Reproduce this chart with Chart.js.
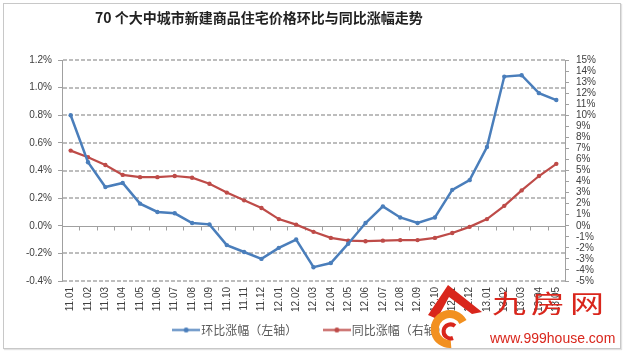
<!DOCTYPE html>
<html><head><meta charset="utf-8">
<script src="https://cdn.jsdelivr.net/npm/chart.js@4.4.0/dist/chart.umd.min.js"></script>
<style>
html,body{margin:0;padding:0;background:#fff;}
#wrap{position:relative;width:625px;height:357px;overflow:hidden;background:#fff;}
#frame{position:absolute;left:3px;top:3px;width:616px;height:344px;border:1px solid #c8c8c8;box-shadow:1px 1px 1px #e2e2e2;}
#title{position:absolute;left:95px;top:7px;line-height:16px;white-space:nowrap;font:bold 14px "Noto Sans CJK SC",sans-serif;color:#222;}
#c{position:absolute;left:0;top:0;}
#logo{position:absolute;left:425px;top:282px;}
#wm1{position:absolute;left:492px;top:287px;font:34px "Noto Sans CJK SC",sans-serif;color:#d9261c;letter-spacing:5px;line-height:40px;transform:scale(1,0.75);transform-origin:left top;white-space:nowrap;}
#wm2{position:absolute;left:490px;top:330px;font:14px "Liberation Sans",Arial,sans-serif;color:#d9261c;line-height:16px;white-space:nowrap;}
</style></head>
<body>
<div id="wrap">
<div id="frame"></div>
<canvas id="c" width="625" height="357"></canvas>
<div id="title">70 个大中城市新建商品住宅价格环比与同比涨幅走势</div>
<svg id="logo" width="70" height="75" viewBox="0 0 70 75">
  <path d="M23 3 L57 30 L47 32 L24 15 L12 37 L3 33 Z" fill="#d9261c"/>
  <path d="M38 40 A15 15 0 1 0 26 62" fill="none" stroke="#f29020" stroke-width="8"/>
  <path d="M30 44 A7 7 0 1 0 28 56" fill="none" stroke="#d9261c" stroke-width="4"/>
</svg>
<div id="wm1">九房网</div>
<div id="wm2">www.999house.com</div>
</div>
<script>
const categories = ['11.01','11.02','11.03','11.04','11.05','11.06','11.07','11.08','11.09','11.10','11.11','11.12',
  '12.01','12.02','12.03','12.04','12.05','12.06','12.07','12.08','12.09','12.10','12.11','12.12',
  '13.01','13.02','13.03','13.04','13.05'];
// 环比涨幅 (%), left axis
const momChange = [0.80,0.46,0.28,0.31,0.16,0.10,0.09,0.02,0.01,-0.14,-0.19,-0.24,
  -0.16,-0.10,-0.30,-0.27,-0.13,0.02,0.14,0.06,0.02,0.06,0.26,0.33,
  0.57,1.08,1.09,0.96,0.91];
// 同比涨幅 (%), right axis
const yoyChange = [6.8,6.2,5.5,4.6,4.4,4.4,4.5,4.35,3.8,3.0,2.3,1.6,
  0.6,0.1,-0.55,-1.1,-1.35,-1.4,-1.35,-1.3,-1.3,-1.1,-0.65,-0.1,
  0.6,1.8,3.2,4.5,5.6];
const seriesNames = ['环比涨幅（左轴）','同比涨幅（右轴）'];
const leftAxis = {min:-0.4, max:1.2, step:0.2};
const rightAxis = {min:-5, max:15, step:1};

const BLUE = '#4a7ebb', RED = '#be4b48', AXIS = '#a0a0a0', GRID = '#a8a8a8';

function legendMark(color){
  const cv = document.createElement('canvas');
  cv.width = 28; cv.height = 7;
  const g = cv.getContext('2d');
  g.strokeStyle = color; g.lineWidth = 2;
  g.beginPath(); g.moveTo(0,3.5); g.lineTo(28,3.5); g.stroke();
  g.fillStyle = color; g.beginPath(); g.arc(14,3.5,2.5,0,Math.PI*2); g.fill();
  return cv;
}
const marks = [legendMark(BLUE), legendMark(RED)];

// dashed horizontal grid lines at the left-axis ticks, solid zero line with category tick marks
const gridPlugin = {
  id:'gridPlugin',
  beforeDatasetsDraw(chart){
    const ctx = chart.ctx, area = chart.chartArea, yS = chart.scales.y, xS = chart.scales.x;
    ctx.save();
    ctx.strokeStyle = GRID; ctx.lineWidth = 1.5; ctx.setLineDash([4,2]);
    for (const t of yS.ticks) {
      if (Math.abs(t.value) < 1e-9) continue;
      const py = Math.round(yS.getPixelForValue(t.value));
      ctx.beginPath(); ctx.moveTo(area.left + 1, py); ctx.lineTo(area.right, py); ctx.stroke();
    }
    ctx.setLineDash([]);
    ctx.lineWidth = 1;
    const y0 = Math.round(yS.getPixelForValue(0)) + 0.5;
    const half = (xS.getPixelForValue(1) - xS.getPixelForValue(0)) / 2;
    ctx.strokeStyle = AXIS;
    ctx.beginPath();
    ctx.moveTo(area.left, y0); ctx.lineTo(area.right, y0);
    for (let i = 0; i <= categories.length; i++) {
      const px = Math.round(xS.getPixelForValue(i) - half) + 0.5;
      ctx.moveTo(px, y0); ctx.lineTo(px, y0 + 4);
    }
    ctx.stroke();
    ctx.restore();
  }
};

const tickFont = {family:'"Liberation Sans", Arial, sans-serif', size:10};

new Chart(document.getElementById('c'), {
  type:'line',
  data:{
    labels: categories,
    datasets:[
      {label:seriesNames[0], data:momChange, yAxisID:'y', borderColor:BLUE, backgroundColor:BLUE,
       borderWidth:2.5, pointRadius:2.2, pointBorderWidth:0, pointBackgroundColor:BLUE, tension:0},
      {label:seriesNames[1], data:yoyChange, yAxisID:'y1', borderColor:RED, backgroundColor:RED,
       borderWidth:2.2, pointRadius:2.2, pointBorderWidth:0, pointBackgroundColor:RED, tension:0}
    ]
  },
  options:{
    responsive:false, animation:false, devicePixelRatio:1,
    layout:{padding:{left:10, right:10, top:60, bottom:11}},
    plugins:{
      title:{display:false},
      tooltip:{enabled:false},
      legend:{
        position:'bottom',
        labels:{
          usePointStyle:true, pointStyleWidth:18, boxHeight:12, padding:10,
          color:'#595959',
          font:{family:'"Noto Sans CJK SC", sans-serif', size:12},
          generateLabels(chart){
            const items = Chart.defaults.plugins.legend.labels.generateLabels(chart);
            items.forEach((it,i)=>{
              it.pointStyle = marks[i];
              if (i === 0) it.text = it.text + '\u3000\u3000 ';
            });
            return items;
          }
        }
      }
    },
    scales:{
      x:{
        offset:true,
        grid:{display:false, drawTicks:false},
        border:{display:false},
        ticks:{autoSkip:false, maxRotation:90, minRotation:90, padding:6, color:'#404040', font:tickFont},
        afterFit(s){ s.height = 33; }
      },
      y:{
        position:'left', min:leftAxis.min, max:leftAxis.max,
        grid:{drawOnChartArea:false, tickLength:4, tickColor:AXIS},
        border:{display:true, color:AXIS},
        ticks:{stepSize:leftAxis.step, autoSkip:false, padding:6, color:'#404040', font:tickFont,
          callback:v=>v.toFixed(1)+'%'},
        afterFit(s){ s.width = 52; }
      },
      y1:{
        position:'right', min:rightAxis.min, max:rightAxis.max,
        grid:{drawOnChartArea:false, tickLength:4, tickColor:AXIS},
        border:{display:true, color:AXIS},
        ticks:{stepSize:rightAxis.step, autoSkip:false, padding:7, color:'#404040', font:tickFont,
          callback:v=>Math.round(v)+'%'},
        afterFit(s){ s.width = 50; }
      }
    }
  },
  plugins:[gridPlugin]
});
</script>
</body></html>
